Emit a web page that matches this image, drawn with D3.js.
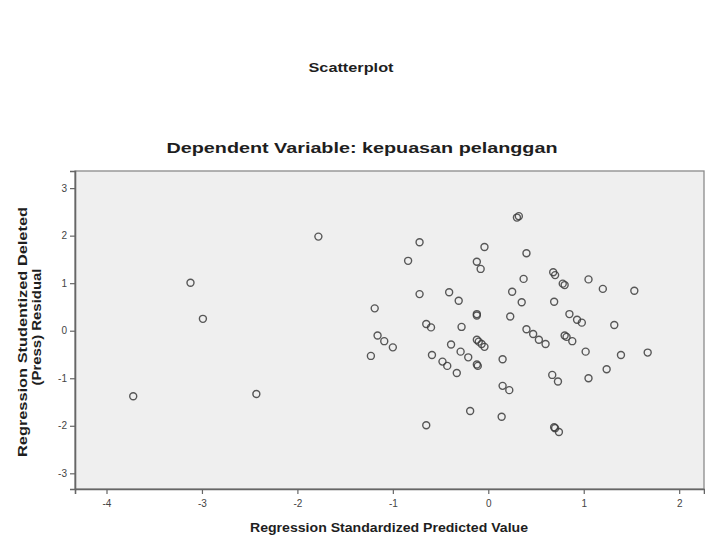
<!DOCTYPE html>
<meta charset="utf-8">
<style type="text/css">
    body { margin: 0; background: #fff; }
    svg { display: block; font-family: "Liberation Sans", Arial, sans-serif; }
</style>
<svg id="chart" width="705" height="543"></svg>
<script src="https://cdn.jsdelivr.net/npm/d3@7/dist/d3.min.js" type="text/javascript"></script>
<script type="text/javascript">
    // predicted values (x) and studentized deleted residuals (y)
    var predicted = [
        -3.72, -3.12, -2.99, -2.43, -1.78, -0.72, -0.84, -0.04, -0.12, -0.08,
        0.30, 0.32, 0.40, 0.37, 0.68, 0.70, 0.78, 0.80, 1.05, 1.20,
        1.53, -0.72, -0.41, -0.31, 0.25, 0.35, 0.69, -1.19, -0.12, -0.12,
        0.23, 0.85, 0.93, 0.98, 1.32, -0.65, -0.60, -0.28, 0.40, 0.47,
        0.53, 0.60, 0.80, 0.82, 0.88, -1.16, -1.09, -1.00, -1.23, -0.39,
        -0.12, -0.10, -0.07, -0.04, -0.59, -0.29, -0.21, -0.48, -0.43, -0.12,
        -0.11, -0.33, 0.15, 1.02, 1.39, 1.67, 1.24, 0.67, 0.73, 1.05,
        0.15, 0.22, -0.19, 0.14, -0.65, 0.69, 0.70, 0.74
    ];
    var residual = [
        -1.38, 1.01, 0.25, -1.33, 1.98, 1.86, 1.47, 1.76, 1.45, 1.30,
        2.38, 2.41, 1.63, 1.09, 1.23, 1.17, 0.99, 0.96, 1.08, 0.88,
        0.84, 0.77, 0.81, 0.63, 0.82, 0.60, 0.61, 0.47, 0.35, 0.32,
        0.30, 0.35, 0.23, 0.17, 0.12, 0.14, 0.07, 0.08, 0.03, -0.07,
        -0.19, -0.28, -0.10, -0.13, -0.22, -0.10, -0.22, -0.35, -0.53, -0.29,
        -0.19, -0.23, -0.28, -0.34, -0.51, -0.44, -0.56, -0.65, -0.74, -0.71,
        -0.74, -0.89, -0.60, -0.44, -0.51, -0.46, -0.81, -0.93, -1.07, -1.00,
        -1.16, -1.25, -1.69, -1.81, -1.99, -2.03, -2.05, -2.13
    ];
    var xTicks = [-4, -3, -2, -1, 0, 1, 2];
    var yTicks = [-3, -2, -1, 0, 1, 2, 3];

    var title = "Scatterplot";
    var subtitle = "Dependent Variable: kepuasan pelanggan";
    var xTitle = "Regression Standardized Predicted Value";
    var yTitle = ["Regression Studentized Deleted", "(Press) Residual"];

    var points = predicted.map((d, i) => ({ x: d, y: residual[i] }));

    var svg = d3.select("#chart");
    var plotLeft = 75, plotRight = 704, plotTop = 171, plotBottom = 489;

    var x = d3.scaleLinear().domain([-4.33, 2.26]).range([plotLeft, plotRight]);
    var y = d3.scaleLinear().domain([-3.33, 3.36]).range([plotBottom, plotTop]);

    // plot background
    svg.append("rect")
        .attr("x", plotLeft).attr("y", plotTop)
        .attr("width", plotRight - plotLeft).attr("height", plotBottom - plotTop)
        .attr("fill", "#efefef")
        .attr("stroke", "#8a8a8a")
        .attr("stroke-width", 1.3);

    var xAxis = svg.append("g")
        .attr("transform", "translate(0," + plotBottom + ")")
        .call(d3.axisBottom(x).tickValues(xTicks).tickSize(5).tickPadding(6).tickFormat(d => String(d)));
    var yAxis = svg.append("g")
        .attr("transform", "translate(" + plotLeft + ",0)")
        .call(d3.axisLeft(y).tickValues(yTicks).tickSize(5).tickPadding(3).tickFormat(d => String(d)));

    [xAxis, yAxis].forEach(g => {
        g.select(".domain").attr("stroke", "#666").attr("stroke-width", 1.6);
        g.selectAll(".tick line").attr("stroke", "#666").attr("stroke-width", 1.2);
        g.selectAll(".tick text")
            .attr("fill", "#444")
            .style("font-size", "10px")
            .style("font-family", "'Liberation Sans', Arial, sans-serif");
    });

    // markers
    svg.append("g").selectAll("circle")
        .data(points)
        .join("circle")
        .attr("cx", d => x(d.x))
        .attr("cy", d => y(d.y))
        .attr("r", 3.5)
        .attr("fill", "none")
        .attr("stroke", "#3c3c3c")
        .attr("stroke-width", 1.4)
        .attr("stroke-opacity", 0.85);

    // titles
    function label(txt, px, py, size, len, rotate) {
        var t = svg.append("text")
            .attr("text-anchor", "middle")
            .attr("font-weight", "bold")
            .attr("font-size", size)
            .attr("fill", "#1e1e1e")
            .attr("textLength", len)
            .attr("lengthAdjust", "spacingAndGlyphs")
            .text(txt);
        if (rotate) t.attr("transform", "translate(" + px + "," + py + ") rotate(-90)");
        else t.attr("x", px).attr("y", py);
        return t;
    }

    label(title, 351, 72, 13, 85);
    label(subtitle, 362, 153, 14, 391);
    label(xTitle, 389, 532, 13, 278);
    label(yTitle[0], 27, 332, 13, 250, true);
    label(yTitle[1], 41, 327, 13, 117, true);
</script>
